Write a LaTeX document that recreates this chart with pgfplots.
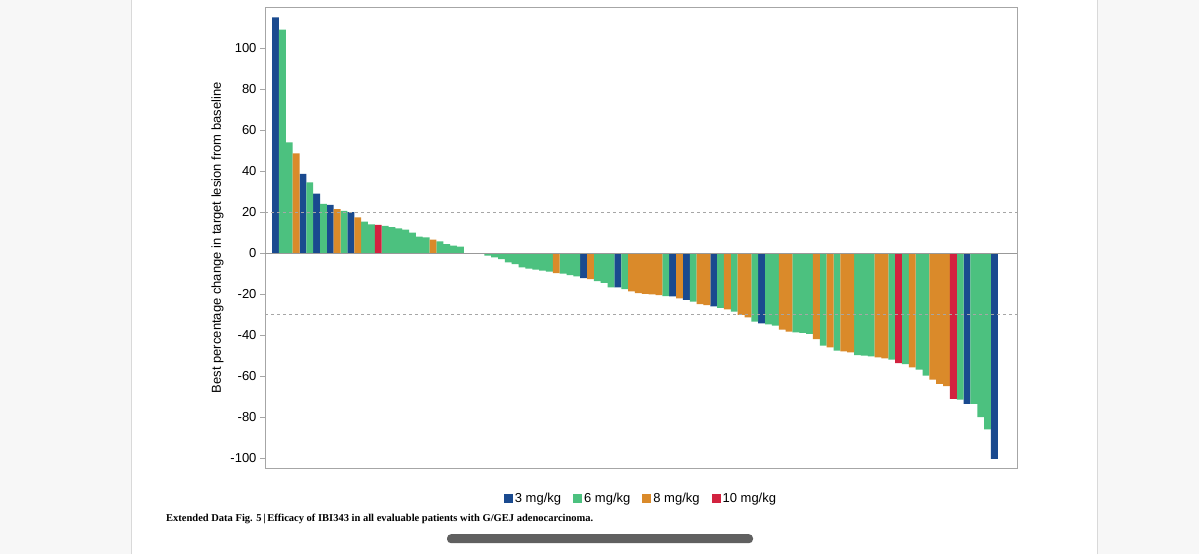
\documentclass[border=0pt]{standalone}
\usepackage{pgfplots}
\pgfplotsset{compat=1.18}
\usepackage{fontspec}
\setmainfont{Liberation Sans}
\newfontfamily\capfont{Liberation Serif}
\definecolor{cblue}{HTML}{1A4A8F}
\definecolor{cgreen}{HTML}{4CC17F}
\definecolor{corange}{HTML}{DA8A2A}
\definecolor{cred}{HTML}{D2223F}
\begin{document}
\begin{tikzpicture}[x=1pt,y=1pt]
\fill[white] (0,0) rectangle (1199,554);
\fill[gray!6] (0,0) rectangle (131,554);
\fill[gray!6] (1097,0) rectangle (1199,554);
\draw[gray!30] (131,0) -- (131,554);
\draw[gray!30] (1097,0) -- (1097,554);
\fill[gray!75!black, rounded corners=4pt] (447,11) rectangle (753,20);
\node[anchor=base west, font=\capfont\bfseries\fontsize{10.5}{12}\selectfont, inner sep=0] at (166,33) {Extended Data Fig. 5\,|\,Efficacy of IBI343 in all evaluable patients with G/GEJ adenocarcinoma.};
\begin{axis}[
  at={(265pt,86pt)}, anchor=south west,
  scale only axis, width=752pt, height=461pt,
  xmin=-0.54, xmax=109.3, ymin=-105, ymax=120,
  axis line style={gray!70}, 
  xtick=\empty,
  ytick={-100,-80,-60,-40,-20,0,20,40,60,80,100},
  yticklabels={-100,-80,-60,-40,-20,0,20,40,60,80,100},
  tick style={gray!70}, ytick pos=left, tick align=outside,
  major tick length=5pt,
  yticklabel style={font=\fontsize{13}{15}\selectfont},
  ylabel={Best percentage change in target lesion from baseline},
  ylabel style={font=\fontsize{13}{15}\selectfont},
  ybar, bar width=1, bar shift=0pt,
  legend columns=4,
  legend style={at={(0.5,-0.045)}, anchor=north, draw=none, fill=none,
    font=\fontsize{13}{15}\selectfont, /tikz/every even column/.append style={column sep=10pt}},
  legend image code/.code={\fill[#1] (0pt,-4pt) rectangle (9pt,5pt);},
]
\addplot[fill=cblue, draw=none] coordinates {(1,115)(5,38.7)(7,29)(9,23.5)(12,20)(46,-12.2)(51,-16.7)(59,-21.1)(61,-22.9)(65,-26)(72,-34.3)(102,-73.6)(106,-100.4)};
\addplot[fill=cgreen, draw=none] coordinates {(2,109)(3,54)(6,34.5)(8,24)(11,20.6)(14,15.4)(15,14)(17,13.3)(18,12.7)(19,12)(20,11.4)(21,10)(22,8)(23,7.6)(25,5.7)(26,4.4)(27,3.6)(28,3.1)
(32,-1.3)(33,-2.1)(34,-2.9)(35,-4.5)(36,-5.4)(37,-7)(38,-7.6)(39,-8.1)(40,-8.6)(41,-9.1)(43,-10)(44,-10.8)(45,-11.4)(48,-13.7)(49,-14.6)(50,-16.7)(52,-17.6)(58,-21)(62,-23.7)(66,-26.8)(68,-28.6)(71,-33.5)(73,-34.8)(74,-35.4)(77,-38.7)(78,-39)(79,-39.5)(81,-45.2)(83,-47.6)(86,-49.8)(87,-50.1)(88,-50.4)(91,-52)(93,-54.2)(95,-56.9)(96,-59.8)(101,-71.5)(103,-73.6)(104,-80.1)(105,-86.1)};
\addplot[fill=corange, draw=none] coordinates {(4,48.6)(10,21.5)(13,17.4)(24,6.5)(42,-9.8)(47,-12.7)(53,-18.7)(54,-19.5)(55,-19.9)(56,-20.2)(57,-20.5)(60,-22.1)(63,-24.9)(64,-25.4)(67,-27.5)(69,-30.2)(70,-31.4)(75,-37.4)(76,-38.4)(80,-42)(82,-46)(84,-48)(85,-48.5)(89,-50.9)(90,-51.4)(94,-55.8)(97,-61.8)(98,-63.9)(99,-65)};
\addplot[fill=cred, draw=none] coordinates {(16,13.7)(92,-53.7)(100,-71.2)};
\legend{3 mg/kg, 6 mg/kg, 8 mg/kg, 10 mg/kg}
\draw[gray!70, dashed, thick] (axis cs:-0.54,20) -- (axis cs:109.3,20);
\draw[gray!70, dashed, thick] (axis cs:-0.54,-30) -- (axis cs:109.3,-30);
\draw[gray!80, thick] (axis cs:-0.54,0) -- (axis cs:109.3,0);
\end{axis}
\end{tikzpicture}
\end{document}
